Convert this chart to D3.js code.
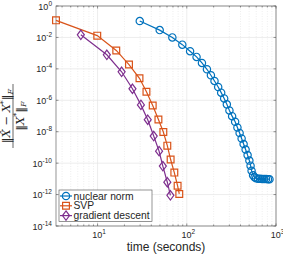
<!DOCTYPE html>
<html>
<head>
<meta charset="utf-8">
<script src="https://cdn.jsdelivr.net/npm/d3@7"></script>
<style>
  html, body { margin: 0; padding: 0; background: #fff; }
  svg { display: block; font-family: "Liberation Sans", Arial, sans-serif; }
</style>
</head>
<body>
<div id="chart"></div>
<script>
// error vs. time, three solvers
const nuclearTime = [29.7, 49.7, 68.9, 89.1, 108.9, 128.7, 147.9, 168.2, 186.4, 204.5, 224.9, 243, 262.4, 281.2, 300.6, 322.2, 348.3, 369.5, 391, 411.7, 433.5, 456.4, 480.4, 503.1, 518.8, 532.5, 553.4, 575.3, 597.7, 629.5, 662.8, 697.7, 734.5, 773, 813.7, 845.5];
const nuclearErr = [0.110, 0.0292, 0.0100, 3.47e-3, 1.33e-3, 5.75e-4, 2.38e-4, 9.4e-5, 3.9e-5, 1.7e-5, 7.0e-6, 3.06e-6, 1.32e-6, 5.5e-7, 2.26e-7, 9.8e-8, 4.3e-8, 1.86e-8, 8.3e-9, 3.7e-9, 1.64e-9, 7.3e-10, 3.24e-10, 1.45e-10, 6.9e-11, 3.3e-11, 1.7e-11, 1.27e-11, 1.1e-11, 1.02e-11, 1.02e-11, 9.8e-12, 9.8e-12, 9.8e-12, 9.5e-12, 9.5e-12];

const svpTime = [3.42, 9.92, 16.2, 22.5, 29.5, 35.3, 41.5, 48.1, 54.6, 60.5, 65.9, 72.5, 78.9, 82.4];
const svpErr = [0.122, 0.013, 1.48e-3, 1.88e-4, 2.5e-5, 3.5e-6, 4.7e-7, 6e-8, 9.5e-9, 1.3e-9, 1.7e-10, 2.5e-11, 3.6e-12, 1.1e-12];

const gdTime = [6.49, 12.7, 18.6, 24.6, 30.6, 36.5, 42.6, 48.9, 53.9, 60.5, 65.5];
const gdErr = [0.0147, 7.85e-4, 6.5e-5, 5.4e-6, 5.1e-7, 5.8e-8, 5.3e-9, 5.8e-10, 6.5e-11, 6.1e-12, 9e-13];

const seriesNames = ["nuclear norm", "SVP", "gradient descent"];
const xTickExp = [1, 2, 3];
const yTickExp = [0, -2, -4, -6, -8, -10, -12, -14];
const xLabel = "time (seconds)";

const W = 283, H = 254;
const mLeft = 56, mRight = 276, mTop = 6, mBottom = 226;

const svg = d3.select("#chart").append("svg")
  .attr("width", W).attr("height", H);

const x = d3.scaleLog()
  .domain([d3.min(svpTime), 1000])
  .range([mLeft, mRight]);
const y = d3.scaleLog()
  .domain([1e-14, 1])
  .range([mBottom, mTop]);

// grid: minor (dotted) on x, major on both
const minorX = [];
for (let d = 0; d <= 3; d++) {
  for (let m = 2; m <= 9; m++) {
    const v = m * Math.pow(10, d);
    if (v > x.domain()[0] && v < 1000) minorX.push(v);
  }
}
const grid = svg.append("g");
grid.selectAll(".mx").data(minorX).enter().append("line")
  .attr("x1", d => x(d)).attr("x2", d => x(d))
  .attr("y1", mTop).attr("y2", mBottom)
  .attr("stroke", "#e2e2e2").attr("stroke-width", 0.6)
  .attr("stroke-dasharray", "1,1.5");
grid.selectAll(".gx").data(xTickExp).enter().append("line")
  .attr("x1", d => x(Math.pow(10, d))).attr("x2", d => x(Math.pow(10, d)))
  .attr("y1", mTop).attr("y2", mBottom)
  .attr("stroke", "#e4e4e4").attr("stroke-width", 0.7);
grid.selectAll(".gy").data(yTickExp).enter().append("line")
  .attr("x1", mLeft).attr("x2", mRight)
  .attr("y1", d => y(Math.pow(10, d))).attr("y2", d => y(Math.pow(10, d)))
  .attr("stroke", "#e4e4e4").attr("stroke-width", 0.7);

// box + inward ticks
const axisCol = "#4d4d4d";
svg.append("rect")
  .attr("x", mLeft).attr("y", mTop)
  .attr("width", mRight - mLeft).attr("height", mBottom - mTop)
  .attr("fill", "none").attr("stroke", axisCol).attr("stroke-width", 0.6);
const ticks = svg.append("g").attr("stroke", axisCol).attr("stroke-width", 0.6);
minorX.forEach(v => {
  ticks.append("line").attr("x1", x(v)).attr("x2", x(v)).attr("y1", mBottom).attr("y2", mBottom - 1.5);
  ticks.append("line").attr("x1", x(v)).attr("x2", x(v)).attr("y1", mTop).attr("y2", mTop + 1.5);
});
xTickExp.forEach(e => {
  const px = x(Math.pow(10, e));
  ticks.append("line").attr("x1", px).attr("x2", px).attr("y1", mBottom).attr("y2", mBottom - 2.5);
  ticks.append("line").attr("x1", px).attr("x2", px).attr("y1", mTop).attr("y2", mTop + 2.5);
});
yTickExp.forEach(e => {
  const py = y(Math.pow(10, e));
  ticks.append("line").attr("x1", mLeft).attr("x2", mLeft + 2.5).attr("y1", py).attr("y2", py);
  ticks.append("line").attr("x1", mRight).attr("x2", mRight - 2.5).attr("y1", py).attr("y2", py);
});

// tick labels as 10^n
function powLabel(g, e, px, py, anchor) {
  const t = g.append("text")
    .attr("x", px).attr("y", py)
    .attr("text-anchor", anchor)
    .attr("fill", "#262626")
    .attr("font-size", 9);
  t.append("tspan").text("10");
  t.append("tspan").attr("dy", -4).attr("font-size", 6.5).text(e < 0 ? "-" + (-e) : e);
}
const lab = svg.append("g");
yTickExp.forEach(e => powLabel(lab, e, mLeft - 4, y(Math.pow(10, e)) + 3.5, "end"));
xTickExp.forEach(e => powLabel(lab, e, x(Math.pow(10, e)) + 1.5, mBottom + 11.5, "middle"));

svg.append("text")
  .attr("x", (mLeft + mRight) / 2).attr("y", 250.5)
  .attr("text-anchor", "middle")
  .attr("font-size", 12).attr("fill", "#262626")
  .text(xLabel);

// y label: ||X^ - X*||_F / ||X*||_F
const yl = svg.append("g")
  .attr("transform", `translate(13,${(mTop + mBottom) / 2}) rotate(-90)`)
  .attr("font-family", "'DejaVu Serif', 'Liberation Serif', serif")
  .attr("fill", "#262626");
const num = yl.append("text").attr("x", 0).attr("y", -3)
  .attr("text-anchor", "middle").attr("font-size", 11.5);
num.append("tspan").text("\u2016");
num.append("tspan").attr("font-style", "italic").text("X\u0302");
num.append("tspan").text(" \u2212 ");
num.append("tspan").attr("font-style", "italic").text("X");
num.append("tspan").attr("dy", -4.5).attr("font-size", 8).text("*");
num.append("tspan").attr("dy", 4.5).text("\u2016");
num.append("tspan").attr("dy", 2.5).attr("font-size", 8).attr("font-style", "italic").text("F");
const den = yl.append("text").attr("x", 0).attr("y", 10.5)
  .attr("text-anchor", "middle").attr("font-size", 11.5);
den.append("tspan").text("\u2016");
den.append("tspan").attr("font-style", "italic").text("X");
den.append("tspan").attr("dy", -4.5).attr("font-size", 8).text("*");
den.append("tspan").attr("dy", 4.5).text("\u2016");
den.append("tspan").attr("dy", 2.5).attr("font-size", 8).attr("font-style", "italic").text("F");
yl.append("line").attr("x1", -32).attr("x2", 32).attr("y1", 0).attr("y2", 0)
  .attr("stroke", "#262626").attr("stroke-width", 0.7);

// series
const colors = ["#0072BD", "#D95319", "#7E2F8E"];
const series = [
  { name: seriesNames[0], t: nuclearTime, e: nuclearErr, color: colors[0], shape: "circle" },
  { name: seriesNames[1], t: svpTime, e: svpErr, color: colors[1], shape: "square" },
  { name: seriesNames[2], t: gdTime, e: gdErr, color: colors[2], shape: "diamond" }
];
const symbols = {
  circle: d3.symbol().type(d3.symbolCircle).size(42)(),
  square: d3.symbol().type(d3.symbolSquare).size(46)(),
  diamond: "M0,-4.7L3.5,0L0,4.7L-3.5,0Z"
};
const line = d3.line().x(d => x(d[0])).y(d => y(d[1]));

const plot = svg.append("g");
series.forEach(s => {
  const pts = s.t.map((t, i) => [t, s.e[i]]);
  plot.append("path").datum(pts)
    .attr("d", line)
    .attr("fill", "none").attr("stroke", s.color).attr("stroke-width", 1.2);
  plot.selectAll(null).data(pts).enter().append("path")
    .attr("d", symbols[s.shape])
    .attr("transform", d => `translate(${x(d[0])},${y(d[1])})`)
    .attr("fill", "none").attr("stroke", s.color).attr("stroke-width", 1.2);
});

// legend
const lg = svg.append("g");
lg.append("rect")
  .attr("x", 59).attr("y", 190).attr("width", 93).attr("height", 31.5)
  .attr("fill", "#fff").attr("stroke", axisCol).attr("stroke-width", 0.6);
series.forEach((s, i) => {
  const cy = 196 + i * 9.8;
  lg.append("line").attr("x1", 60).attr("x2", 72).attr("y1", cy).attr("y2", cy)
    .attr("stroke", s.color).attr("stroke-width", 1.2);
  lg.append("path").attr("d", symbols[s.shape])
    .attr("transform", `translate(66,${cy})`)
    .attr("fill", "none").attr("stroke", s.color).attr("stroke-width", 1.2);
  lg.append("text").attr("x", 73.5).attr("y", cy + 3.6)
    .attr("font-size", 10.3).attr("fill", "#262626")
    .text(s.name);
});
</script>
</body>
</html>
